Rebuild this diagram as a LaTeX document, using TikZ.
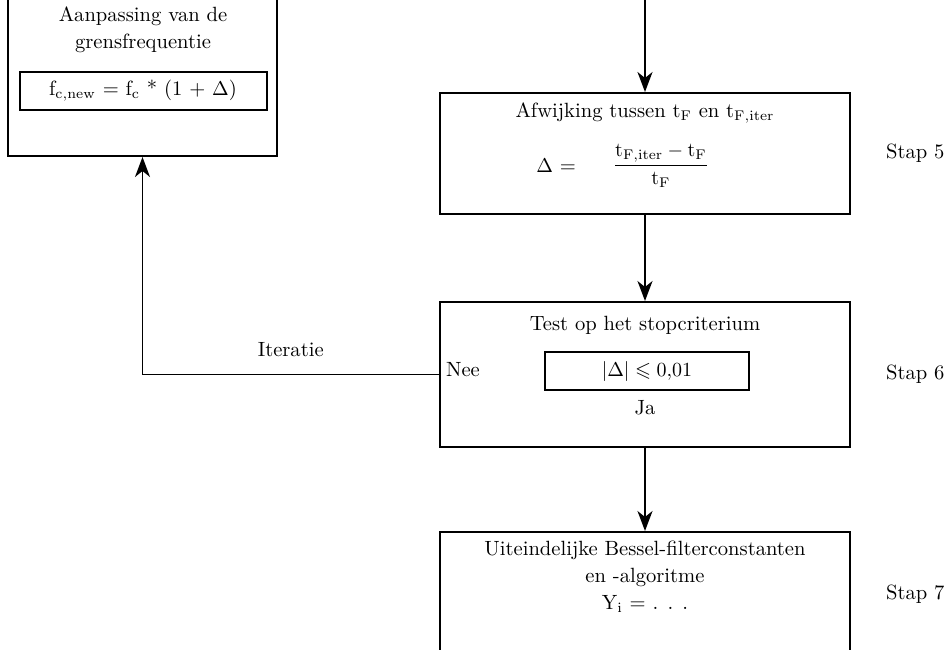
\documentclass[tikz,border=0pt]{standalone}
\usepackage{amssymb}
\usetikzlibrary{positioning,arrows.meta}

\begin{document}
\begin{tikzpicture} [x=0.5pt,y=-0.5pt,
    every node/.style={font=\fontsize{10.3}{13.5}\selectfont},
    box/.style={draw,line width=1pt,rectangle,minimum width=205pt},
    formula/.style={draw,line width=1pt,rectangle,minimum height=19pt},
    arr/.style={-{Stealth[length=10pt,width=7.5pt,inset=3pt]},line width=0.9pt}]
    \useasboundingbox (0,0) rectangle (949,649);
    \clip (0,0) rectangle (949,649);

    % steps on the right
    \node[box,minimum height=60.5pt] (delta) at (645,153.5) {};
    \node[box,minimum height=72.5pt,below=43pt of delta] (test) {};
    \node[box,minimum height=70pt,below=41.5pt of test] (final) {};
    \node[right=14pt of delta] (stap5) {Stap 5};
    \node[right=14pt of test] (stap6) {Stap 6};
    \node[right=14pt of final,yshift=4pt] (stap7) {Stap 7};

    \node (deltatitle) at (645,113) {Afwijking tussen t$_\mathrm{F}$ en t$_\mathrm{F,iter}$};
    \node[anchor=east] (deltalhs) at (583,166) {$\Delta$ =};
    \node (deltafrac) at (661,166) {$\displaystyle\frac{\mathrm{t}_\mathrm{F,iter} - \mathrm{t}_\mathrm{F}}{\mathrm{t}_\mathrm{F}}$};

    \node (testtitle) at (645,325) {Test op het stopcriterium};
    \node[formula,minimum width=102pt] (crit) at (647,371) {$|\Delta| \leqslant 0{,}01$};
    \node (nee) at (463,370) {Nee};
    \node (ja) at (645,408) {Ja};

    \node[align=center] (finaltxt) at (645,577) {Uiteindelijke Bessel-filterconstanten\\ en -algoritme\\ Y$_\mathrm{i}$ = . . .};

    % cut-off box on the left
    \node[draw,line width=1pt,minimum width=134.5pt,minimum height=100pt,anchor=south] (adapt) at (142.5,157) {};
    \node[align=center] (adapttitle) at (143,30) {Aanpassing van de\\ grensfrequentie};
    \node[formula,minimum width=123.5pt] (newfc) at (143,91) {f$_\mathrm{c,new}$ = f$_\mathrm{c}$ * (1 + $\Delta$)};

    \coordinate (in) at (645,-20);
    \path (in) edge [arr] (delta);
    \path (delta) edge [arr] (test);
    \path (test) edge [arr] (final);
    \draw[arr] (test.west) -| node[pos=0.25,above=5pt] {Iteratie} (adapt.south);
\end{tikzpicture}
\end{document}
